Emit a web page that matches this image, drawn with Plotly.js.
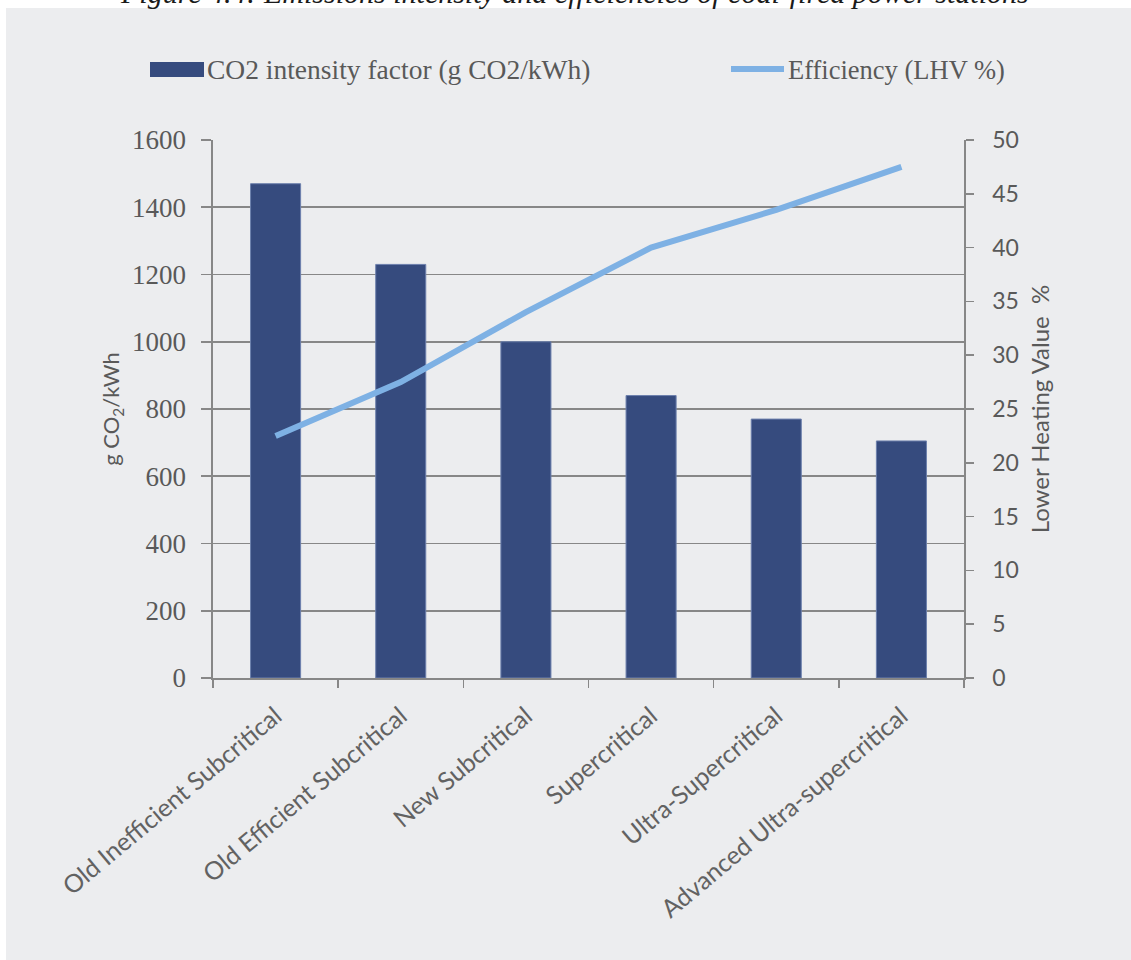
<!DOCTYPE html>
<html>
<head>
<meta charset="utf-8">
<script src="https://cdn.plot.ly/plotly-3.0.1.min.js"></script>
<style>
  html, body { margin: 0; padding: 0; background: #ffffff; }
  #chart { width: 1131px; height: 960px; }
</style>
</head>
<body>
<div id="chart"></div>
<script>
// Coal-fired generation technologies
const categories = [
  'Old Inefficient Subcritical',
  'Old Efficient Subcritical',
  'New Subcritical',
  'Supercritical',
  'Ultra-Supercritical',
  'Advanced Ultra-supercritical'
];
// CO2 intensity factor, g CO2 per kWh
const co2Intensity = [1470, 1230, 1000, 840, 770, 705];
// Efficiency, lower heating value %
const efficiencyLHV = [22.5, 27.5, 34, 40, 43.5, 47.5];

const seriesNames = ['CO2 intensity factor (g CO2/kWh)', 'Efficiency (LHV %)'];
const captionText = 'Figure 4.4: Emissions intensity and efficiencies of coal-fired power stations';

// Page geometry (pixels)
const W = 1131, H = 960;
const M = { l: 213, r: 167, t: 140, b: 282 };
const plotW = W - M.l - M.r, plotH = H - M.t - M.b;
const px = x => (x - M.l) / plotW;          // page x -> paper x
const py = y => (H - M.b - y) / plotH;      // page y -> paper y

const barColor = '#364b7e';
const lineColor = '#7eb1e4';
const gridColor = '#878787';
const textColor = '#595959';
const panelColor = '#ecedef';

const serif = 'Liberation Serif, serif';
const sans = 'Lato, Open Sans, sans-serif';

const traces = [
  {
    type: 'bar',
    name: seriesNames[0],
    x: categories,
    y: co2Intensity,
    width: 0.4,
    marker: { color: barColor, line: { color: '#6d80ad', width: 1 } },
    yaxis: 'y',
    showlegend: false,
    hoverinfo: 'x+y'
  },
  {
    type: 'scatter',
    mode: 'lines',
    name: seriesNames[1],
    x: categories,
    y: efficiencyLHV,
    line: { color: lineColor, width: 6 },
    yaxis: 'y2',
    showlegend: false
  }
];

const layout = {
  width: W,
  height: H,
  autosize: false,
  margin: M,
  paper_bgcolor: panelColor,
  plot_bgcolor: panelColor,
  showlegend: false,
  bargap: 0.6,
  xaxis: {
    type: 'category',
    showgrid: false,
    zeroline: false,
    showline: true,
    linecolor: gridColor,
    linewidth: 1.6,
    ticks: 'outside',
    tickson: 'boundaries',
    ticklen: 8,
    tickwidth: 1.6,
    tickcolor: gridColor,
    tickangle: -40,
    ticklabelstandoff: 12,
    tickfont: { family: sans, size: 25, color: '#626262' }
  },
  yaxis: {
    range: [0, 1600],
    dtick: 200,
    showgrid: true,
    gridcolor: gridColor,
    gridwidth: 1.6,
    zeroline: false,
    showline: true,
    linecolor: gridColor,
    linewidth: 1.6,
    ticks: 'outside',
    ticklen: 10,
    tickwidth: 1.6,
    tickcolor: gridColor,
    ticklabelstandoff: 10,
    tickfont: { family: serif, size: 27, color: textColor },
    title: {
      text: 'g CO<sub>2</sub>/kWh',
      font: { family: sans, size: 22, color: textColor },
      standoff: 6
    }
  },
  yaxis2: {
    overlaying: 'y',
    side: 'right',
    range: [0, 50],
    dtick: 5,
    showgrid: false,
    zeroline: false,
    showline: true,
    linecolor: gridColor,
    linewidth: 1.6,
    ticks: 'outside',
    ticklen: 8,
    tickwidth: 1.6,
    tickcolor: gridColor,
    ticklabelstandoff: 14,
    tickfont: { family: sans, size: 23, color: textColor },
    title: {
      text: 'Lower Heating Value\u00a0 %',
      font: { family: sans, size: 24, color: textColor },
      standoff: 14
    }
  },
  shapes: [
    // white page margin around the grey panel
    { type: 'rect', xref: 'paper', yref: 'paper', layer: 'above',
      x0: px(0), x1: px(W), y0: py(8), y1: py(0),
      fillcolor: '#ffffff', line: { width: 0 } },
    { type: 'rect', xref: 'paper', yref: 'paper', layer: 'above',
      x0: px(0), x1: px(6), y0: py(H), y1: py(0),
      fillcolor: '#ffffff', line: { width: 0 } },
    // legend swatches
    { type: 'rect', xref: 'paper', yref: 'paper',
      x0: px(150), x1: px(204), y0: py(77), y1: py(62),
      fillcolor: barColor, line: { width: 0 } },
    { type: 'line', xref: 'paper', yref: 'paper',
      x0: px(731), x1: px(784), y0: py(69), y1: py(69),
      line: { color: lineColor, width: 6 } }
  ],
  annotations: [
    { xref: 'paper', yref: 'paper', x: px(205), y: py(70),
      xanchor: 'left', yanchor: 'middle', showarrow: false,
      text: seriesNames[0],
      font: { family: serif, size: 27.5, color: textColor } },
    { xref: 'paper', yref: 'paper', x: px(786), y: py(70),
      xanchor: 'left', yanchor: 'middle', showarrow: false,
      text: seriesNames[1],
      font: { family: serif, size: 26.5, color: textColor } },
    { xref: 'paper', yref: 'paper', x: px(574), y: py(11),
      xanchor: 'center', yanchor: 'bottom', showarrow: false,
      text: '<i>' + captionText + '</i>',
      font: { family: serif, size: 30, color: '#1a1a1a' } }
  ]
};

Plotly.newPlot('chart', traces, layout, { staticPlot: true, displayModeBar: false });
</script>
</body>
</html>
